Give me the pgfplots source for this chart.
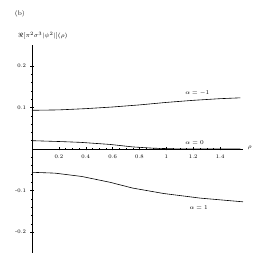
\documentclass[border=0pt]{standalone}
\usepackage{pgfplots}
\pgfplotsset{compat=1.18}
\begin{document}
\begin{tikzpicture}[x=1bp,y=1bp]
\path[use as bounding box] (0,0) rectangle (273,272);
\begin{axis}[
  at={(32bp,123bp)}, anchor=origin,
  scale only axis, width=211bp, height=208bp,
  xmin=0, xmax=1.57, ymin=-0.25, ymax=0.25,
  axis lines=middle,
  axis line style={-, line width=0.6pt},
  xtick={0.2,0.4,0.6,0.8,1,1.2,1.4},
  xticklabels={0.2,0.4,0.6,0.8,1,1.2,1.4},
  ytick={-0.2,-0.1,0,0.1,0.2},
  yticklabels={-0.2,-0.1,0,0.1,0.2},
  minor x tick num=3, minor y tick num=4,
  tick style={black, line width=0.4pt},
  major tick length=3bp, minor tick length=1.5bp,
  tick align=center,
  every tick label/.style={font=\fontsize{5.5}{6}\selectfont},
  xticklabel style={below, yshift=-1bp},
  yticklabel style={left, xshift=-1bp},
  clip=false,
]
\addplot[black, line width=0.6pt] coordinates {
 (0,0.093) (0.2,0.094) (0.4,0.097) (0.6,0.101) (0.8,0.106) (1.0,0.112) (1.2,0.117) (1.4,0.121) (1.55,0.123)};
\addplot[black, line width=0.6pt] coordinates {
 (0,0.020) (0.2,0.018) (0.36,0.016) (0.58,0.011) (0.75,0.005) (0.9,0.002) (1.05,0.0005) (1.2,0.0) (1.55,0.0)};
\addplot[black, line width=0.6pt] coordinates {
 (0,-0.056) (0.17,-0.058) (0.37,-0.066) (0.58,-0.080) (0.75,-0.094) (0.98,-0.107) (1.25,-0.118) (1.57,-0.127)};
\node[font=\fontsize{6.5}{7}\selectfont] at (axis cs:1.23,0.135) {$\alpha=-1$};
\node[font=\fontsize{6.5}{7}\selectfont] at (axis cs:1.21,0.016) {$\alpha=0$};
\node[font=\fontsize{6.5}{7}\selectfont] at (axis cs:1.24,-0.140) {$\alpha=1$};
\node[font=\fontsize{6.5}{7}\selectfont, anchor=west] at (axis cs:1.58,0.002) {$\rho$};
\node[font=\fontsize{6}{7}\selectfont, anchor=west] at (axis cs:-0.13,0.272) {$\Re[\pi^2\sigma^3|\psi^2|](\rho)$};
\node[font=\fontsize{6.5}{7}\selectfont] at (axis cs:-0.09,0.325) {(b)};
\end{axis}
\end{tikzpicture}
\end{document}
